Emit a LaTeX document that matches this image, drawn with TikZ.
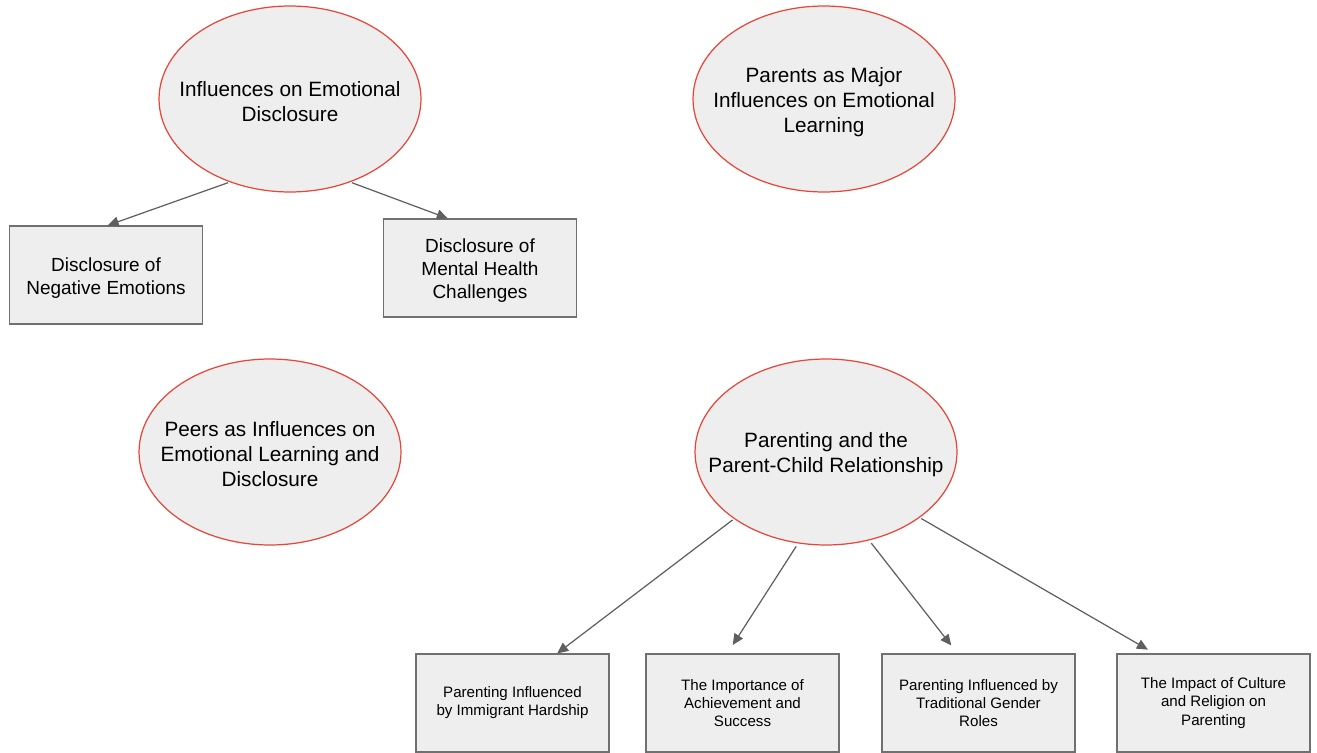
\documentclass[tikz,border=0pt]{standalone}
\usepackage{fontspec}
\setmainfont{Liberation Sans}
\usetikzlibrary{shapes.geometric,arrows.meta}
\definecolor{boxfill}{HTML}{EEEEEE}
\definecolor{ellred}{HTML}{E8463A}
\definecolor{boxline}{HTML}{707070}
\definecolor{arrgray}{HTML}{5F5F5F}
\tikzset{
  topic/.style={ellipse, draw=ellred, fill=boxfill, line width=0.7pt, minimum width=5.24cm, minimum height=3.72cm, inner sep=0pt},
  topictext/.style={align=center, inner sep=0pt, font=\fontsize{11.8}{14.2}\selectfont},
  bigbox/.style={rectangle, draw=boxline, fill=boxfill, line width=0.7pt, minimum width=3.86cm, minimum height=1.96cm, inner sep=0pt},
  bigtext/.style={align=center, inner sep=0pt, font=\fontsize{10.8}{13.1}\selectfont},
  smallbox/.style={rectangle, draw=boxline, fill=boxfill, line width=0.7pt, minimum width=3.86cm, minimum height=1.96cm, inner sep=0pt, align=center, font=\fontsize{8.6}{10.3}\selectfont},
  arr/.style={draw=arrgray, line width=0.7pt, -{Triangle[length=0.22cm, width=0.2cm]}}
}
\begin{document}
\begin{tikzpicture}[x=0.02cm,y=-0.02cm]
\useasboundingbox (0,0) rectangle (1317,753);
\node[topic] (e1) at (290,99) {};
\node[topictext] (t1) at ([yshift=-1.6pt]e1.center) {Influences on Emotional\\Disclosure};
\node[topic] (e2) at (824,99) {};
\node[topictext] (t2) at ([yshift=-1.6pt]e2.center) {Parents as Major\\Influences on Emotional\\Learning};
\node[topic] (e3) at (270,452) {};
\node[topictext] (t3) at ([yshift=-1.2pt]e3.center) {Peers as Influences on\\Emotional Learning and\\Disclosure};
\node[topic] (e4) at (826,452) {};
\node[topictext] (t4) at ([yshift=-1.6pt]e4.center) {Parenting and the\\Parent-Child Relationship};
\node[bigbox] (a) at (106,275) {};
\node[bigtext] (ta) at ([yshift=-1.6pt]a.center) {Disclosure of\\Negative Emotions};
\node[bigbox] (b) at (480,268) {};
\node[bigtext] (tb) at ([yshift=-1.6pt]b.center) {Disclosure of\\Mental Health\\Challenges};
\node[smallbox] (c) at (512.5,703) {Parenting Influenced\\by Immigrant Hardship};
\node[smallbox] (d) at (742.5,703) {The Importance of\\Achievement and\\Success};
\node[smallbox] (e) at (978.5,703) {Parenting Influenced by\\Traditional Gender\\Roles};
\node[smallbox] (f) at (1213.5,703) {The Impact of Culture\\and Religion on\\Parenting};
\draw[arr, shorten <=1pt] (e1.234) -- (a.88);
\draw[arr, shorten <=1pt] (e1.306) -- (b.123);
\draw[arr, shorten <=1pt] (e4.216) -- (c.48.4);
\draw[arr, shorten <=2pt, shorten >=0.2cm] (e4.253) -- (d.107.4);
\draw[arr, shorten <=2pt, shorten >=0.2cm] (e4.296) -- (e.113.7);
\draw[arr, shorten <=1pt, shorten >=0.15cm] (e4.325.5) -- (f.140);
\end{tikzpicture}
\end{document}
